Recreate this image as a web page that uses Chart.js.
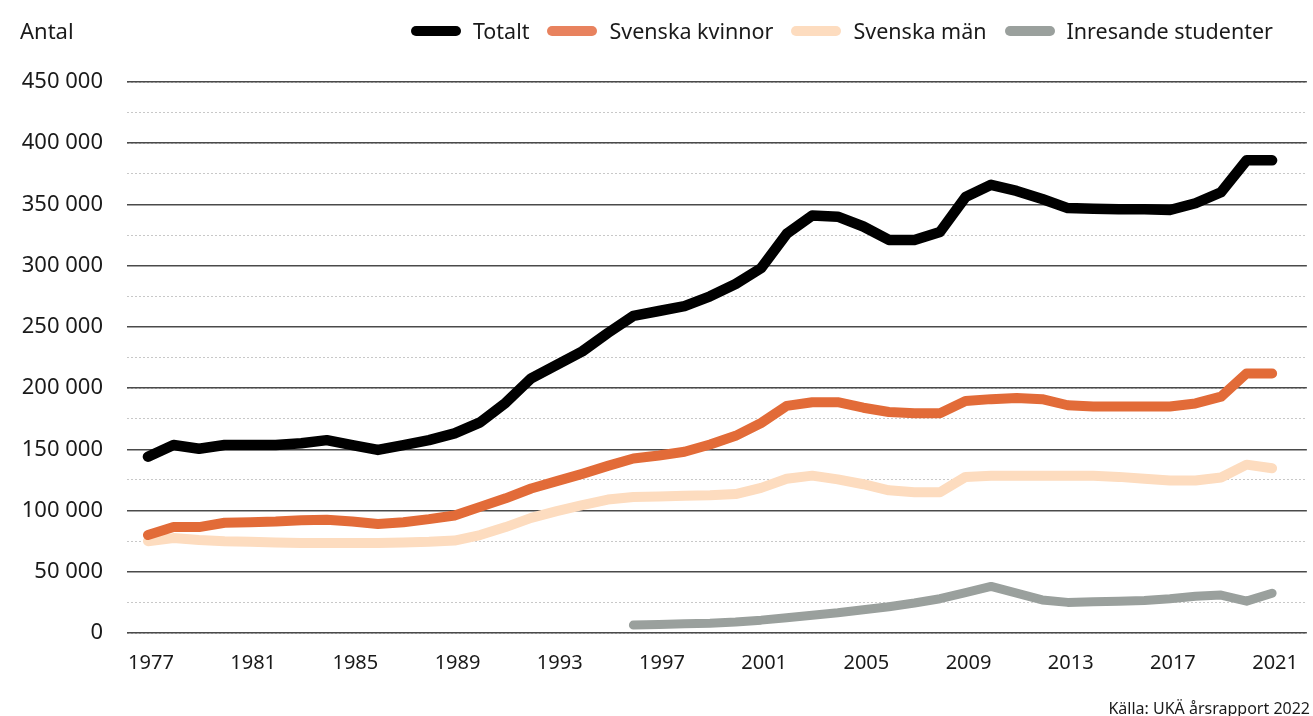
<!DOCTYPE html>
<html lang="sv">
<head>
<meta charset="utf-8">
<title>Antal studenter 1977–2021</title>
<script src="https://cdn.jsdelivr.net/npm/chart.js@4.4.1/dist/chart.umd.min.js"></script>
<style>
  body { margin: 0; background: #fff; font-family: "Noto Sans", sans-serif; color: #1a1a1a; }
  .wrap { position: relative; width: 1313px; height: 716px; overflow: hidden; }
  .unit { position: absolute; left: 20px; top: 15px; font-size: 22px; }
  .legend { position: absolute; right: 40px; top: 16px; display: flex; align-items: center; font-size: 21.5px; }
  .legend .item { display: flex; align-items: center; margin-left: 18px; }
  .legend .swatch { width: 50px; height: 10px; border-radius: 5px; margin-right: 12px; }
  .source { position: absolute; right: 3px; top: 697px; font-size: 16px; }
</style>
</head>
<body>
<div class="wrap">
  <canvas id="studentChart" width="1313" height="716"></canvas>
  <div class="unit">Antal</div>
  <div class="legend" id="legend"></div>
  <div class="source">Källa: UKÄ årsrapport 2022</div>
</div>
<script>
const years = [];
for (let y = 1977; y <= 2021; y++) years.push(y);

const tickYears = [1977, 1981, 1985, 1989, 1993, 1997, 2001, 2005, 2009, 2013, 2017, 2021];

const seriesNames = ['Totalt', 'Svenska kvinnor', 'Svenska män', 'Inresande studenter'];

const totalt = [
  144000, 153500, 150500, 153500, 153500, 153500, 155000, 157500, 153500, 149500,
  153500, 157500, 163000, 172000, 188000, 208000, 219000, 230000, 245000, 259000,
  263000, 267000, 275000, 285000, 298000, 326000, 341000, 340000, 332000, 321000,
  321000, 327500, 356000, 366000, 361000, 354500, 347000, 346500, 346000, 346000,
  345500, 351000, 360000, 386000, 386000
];

const kvinnor = [
  80000, 86500, 86500, 90000, 90500, 91000, 92000, 92500, 91000, 89000,
  90500, 93000, 96000, 103000, 110000, 118000, 124000, 130000, 136500, 142500,
  145000, 148000, 154000, 161000, 171500, 185500, 188500, 188500, 184000, 180500,
  179500, 179500, 189500, 191000, 192000, 191000, 186000, 185000, 185000, 185000,
  185000, 187500, 193000, 212000, 212000
];

const man = [
  75000, 77500, 76000, 75000, 74500, 74000, 73500, 73500, 73500, 73500,
  74000, 74500, 75500, 80000, 86500, 94000, 99500, 104500, 109000, 111000,
  111500, 112000, 112500, 113500, 118500, 126000, 128500, 125500, 121500, 116500,
  115000, 115000, 127500, 128500, 128500, 128500, 128500, 128500, 127500, 126000,
  124500, 124500, 127000, 137500, 134500
];

// inresande studenter finns från 1996
const inresande = [
  null, null, null, null, null, null, null, null, null, null,
  null, null, null, null, null, null, null, null, null, 6500,
  7000, 7500, 8000, 9000, 10500, 12500, 14500, 16500, 19000, 21500,
  24500, 28000, 33000, 38000, 32500, 27000, 25000, 25500, 26000, 26500,
  28000, 30000, 31000, 26000, 32500
];

const lineColors = ['#000000', '#e26b38', '#fddcbf', '#9aa09d'];
const legendColors = ['#000000', '#e8825e', '#fddcbf', '#9aa09d'];
const lineWidths = [10.5, 10, 10, 9];

const allSeries = [totalt, kvinnor, man, inresande];

const fmt = v => String(v).replace(/\B(?=(\d{3})+(?!\d))/g, ' ');

// legend
const legendEl = document.getElementById('legend');
seriesNames.forEach((name, i) => {
  const item = document.createElement('div');
  item.className = 'item';
  const sw = document.createElement('span');
  sw.className = 'swatch';
  sw.style.background = legendColors[i];
  const txt = document.createElement('span');
  txt.textContent = name;
  item.appendChild(sw);
  item.appendChild(txt);
  legendEl.appendChild(item);
});

const ctx = document.getElementById('studentChart').getContext('2d');

new Chart(ctx, {
  type: 'line',
  data: {
    datasets: allSeries.map((values, i) => ({
      label: seriesNames[i],
      data: years.map((yr, j) => ({ x: yr, y: values[j] })),
      borderColor: lineColors[i],
      borderWidth: lineWidths[i],
      borderCapStyle: 'round',
      borderJoinStyle: 'round',
      pointRadius: 0,
      tension: 0,
      spanGaps: false,
      order: i
    }))
  },
  options: {
    responsive: false,
    animation: false,
    devicePixelRatio: 1,
    layout: { padding: { top: 82, left: 10, right: 0, bottom: 43 } },
    plugins: {
      legend: { display: false },
      tooltip: { enabled: false }
    },
    scales: {
      x: {
        type: 'linear',
        min: 1976.18,
        max: 2022.36,
        afterBuildTicks: s => { s.ticks = tickYears.map(v => ({ value: v })); },
        afterFit: s => { s.height = 40; },
        grid: { display: false, drawTicks: false },
        border: { display: false },
        ticks: {
          padding: 18,
          labelOffset: 3,
          color: '#1a1a1a',
          font: { family: 'Noto Sans', size: 20 },
          maxRotation: 0,
          autoSkip: false,
          callback: v => String(v)
        }
      },
      y2: {
        position: 'left',
        min: 0,
        max: 450000,
        afterFit: s => { s.width = 0; },
        ticks: { display: false, stepSize: 25000 },
        grid: { color: '#c8c8c8', lineWidth: 1, drawTicks: false },
        border: { display: false, dash: [2, 2] }
      },
      y: {
        position: 'left',
        min: 0,
        max: 450000,
        afterFit: s => { s.width = 117; },
        grid: { color: '#4a4a4a', lineWidth: 1.5, drawTicks: false },
        border: { display: false },
        ticks: {
          stepSize: 50000,
          padding: 24,
          color: '#1a1a1a',
          font: { family: 'Noto Sans', size: 22 },
          callback: v => fmt(v)
        }
      }
    }
  }
});
</script>
</body>
</html>
